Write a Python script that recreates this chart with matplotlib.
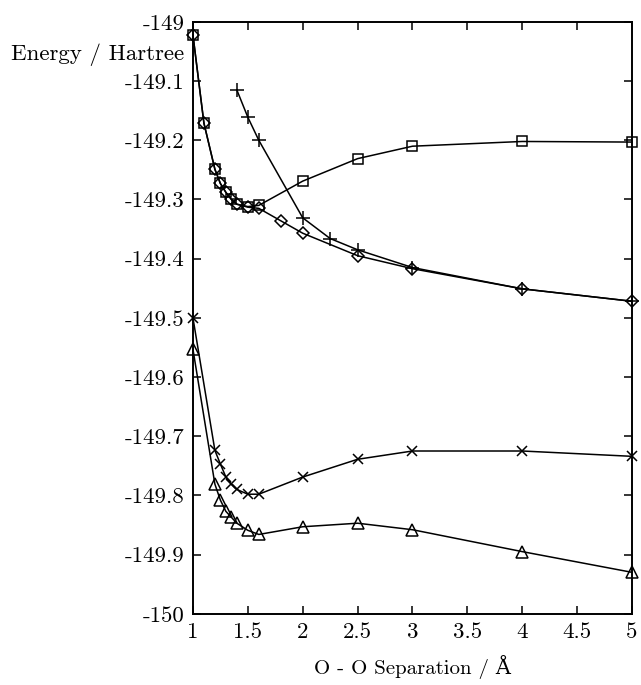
import matplotlib
matplotlib.use('Agg')
import matplotlib.pyplot as plt

plt.rcParams['font.family'] = ['cmr10', 'DejaVu Serif']
plt.rcParams['axes.formatter.use_mathtext'] = True
plt.rcParams['axes.unicode_minus'] = False

# values
x_sq = [1, 1.1, 1.2, 1.25, 1.3, 1.35, 1.4, 1.5, 1.6, 2, 2.5, 3, 4, 5]
y_sq = [-149.022, -149.171, -149.249, -149.273, -149.288, -149.300, -149.308,
        -149.312, -149.310, -149.269, -149.231, -149.210, -149.202, -149.203]

x_dm = [1, 1.1, 1.2, 1.25, 1.3, 1.35, 1.4, 1.5, 1.6, 1.8, 2, 2.5, 3, 4, 5]
y_dm = [-149.022, -149.171, -149.249, -149.273, -149.288, -149.300, -149.308,
        -149.313, -149.315, -149.336, -149.357, -149.395, -149.417, -149.451, -149.472]

x_pl = [1.4, 1.5, 1.6, 2, 2.25, 2.5, 3, 4, 5]
y_pl = [-149.115, -149.161, -149.200, -149.331, -149.366, -149.385, -149.415,
        -149.451, -149.472]

x_cr = [1, 1.2, 1.25, 1.3, 1.35, 1.4, 1.5, 1.6, 2, 2.5, 3, 4, 5]
y_cr = [-149.500, -149.724, -149.747, -149.769, -149.781, -149.790, -149.798,
        -149.798, -149.769, -149.739, -149.725, -149.725, -149.734]

x_tr = [1, 1.2, 1.25, 1.3, 1.35, 1.4, 1.5, 1.6, 2, 2.5, 3, 4, 5]
y_tr = [-149.553, -149.781, -149.808, -149.827, -149.837, -149.847, -149.859,
        -149.866, -149.853, -149.847, -149.858, -149.895, -149.930]

x_ticks = [1, 1.5, 2, 2.5, 3, 3.5, 4, 4.5, 5]
x_tick_labels = ['1', '1.5', '2', '2.5', '3', '3.5', '4', '4.5', '5']
y_ticks = [-149.0, -149.1, -149.2, -149.3, -149.4, -149.5, -149.6, -149.7, -149.8, -149.9, -150.0]
y_tick_labels = ['-149', '-149.1', '-149.2', '-149.3', '-149.4', '-149.5', '-149.6',
                 '-149.7', '-149.8', '-149.9', '-150']

fig = plt.figure(figsize=(6.41, 6.85), dpi=100)
ax = fig.add_axes([0.301, 0.104, 0.685, 0.864])

common = dict(color='black', linewidth=1.1, markerfacecolor='none',
              markeredgecolor='black', markeredgewidth=1.1, clip_on=False)
ax.plot(x_sq, y_sq, marker='s', markersize=7, **common)
ax.plot(x_dm, y_dm, marker='D', markersize=6, **common)
ax.plot(x_pl, y_pl, marker='+', markersize=10, **common)
ax.plot(x_cr, y_cr, marker='x', markersize=7, **common)
ax.plot(x_tr, y_tr, marker='^', markersize=9, **common)

ax.set_xlim(1, 5)
ax.set_ylim(-150, -149)
ax.set_xticks(x_ticks)
ax.set_xticklabels(x_tick_labels)
ax.set_yticks(y_ticks)
ax.set_yticklabels(y_tick_labels)
ax.tick_params(direction='in', length=6, width=1.1, top=True, right=True,
               labelsize=16.5, pad=6)
for s in ax.spines.values():
    s.set_linewidth(1.4)

ax.set_xlabel('O - O Separation / Å', fontsize=15, labelpad=10)
fig.text(184 / 641, 1 - 55 / 685, 'Energy / Hartree', fontsize=16.5,
         ha='right', va='center')

fig.savefig('out.png', dpi=100)
